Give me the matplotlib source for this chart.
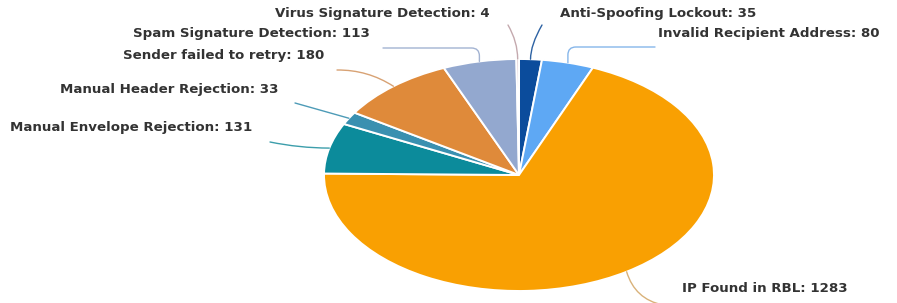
import matplotlib
matplotlib.use("Agg")
import matplotlib.pyplot as plt
import numpy as np

categories = ["Anti-Spoofing Lockout", "Invalid Recipient Address", "IP Found in RBL",
              "Manual Envelope Rejection", "Manual Header Rejection",
              "Sender failed to retry", "Spam Signature Detection",
              "Virus Signature Detection"]
values = [35, 80, 1283, 131, 33, 180, 113, 4]
colors = ["#0b4c9c", "#5ea8f4", "#f9a002", "#0c8b9b", "#3a90b0",
          "#df8a3a", "#93a8cf", "#d9c4ca"]
line_colors = ["#2d62a3", "#86b6ea", "#d9b27a", "#3c9eab", "#4d9bb7",
               "#d8a274", "#a3b3d2", "#c4a9ae"]

W, H = 897, 303
fig = plt.figure(figsize=(W / 100, H / 100), dpi=100)

cx, cy, rx, ry = 519, 175, 195, 116   # pixel layout of the pie (y from top)
ax = fig.add_axes([(cx - rx) / W, (H - cy - ry) / H, 2 * rx / W, 2 * ry / H])
wedges, _ = ax.pie(values, colors=colors, startangle=90, counterclock=False,
                   wedgeprops=dict(edgecolor="white", linewidth=1.4))
ax.set_aspect("auto")
ax.set_xlim(-1, 1)
ax.set_ylim(-1, 1)
ax.axis("off")

# label layout: (text left x, text center y, line end x, line end y, connection style) in pixels from top
layout = [
    (560, 13, 542, 25, "angle3,angleA=-120,angleB=90"),
    (658, 33, 655, 47, "angle,angleA=0,angleB=90,rad=8"),
    (682, 289, 663, 305, "arc3,rad=-0.3"),
    (10, 128, 270, 142, "arc3,rad=0.05"),
    (60, 90, 295, 103, "arc3,rad=0.0"),
    (123, 56, 337, 70, "arc3,rad=-0.15"),
    (133, 33, 383, 48, "angle,angleA=0,angleB=90,rad=8"),
    (275, 13, 508, 25, "angle3,angleA=-60,angleB=90"),
]

for w, cat, val, lc, (tx, ty, lx, ly, cs) in zip(wedges, categories, values, line_colors, layout):
    mid = np.deg2rad((w.theta1 + w.theta2) / 2)
    ax.annotate("", xy=(np.cos(mid), np.sin(mid)), xycoords="data",
                xytext=(lx, H - ly), textcoords="figure pixels",
                arrowprops=dict(arrowstyle="-", color=lc, lw=1.0,
                                connectionstyle=cs, shrinkA=0, shrinkB=0),
                annotation_clip=False)
    fig.text(tx / W, (H - ty) / H, f"{cat}: {val}", ha="left", va="center",
             fontsize=9.6, fontweight="bold", color="#333333", family="DejaVu Sans")

fig.savefig("out.png", dpi=100)
